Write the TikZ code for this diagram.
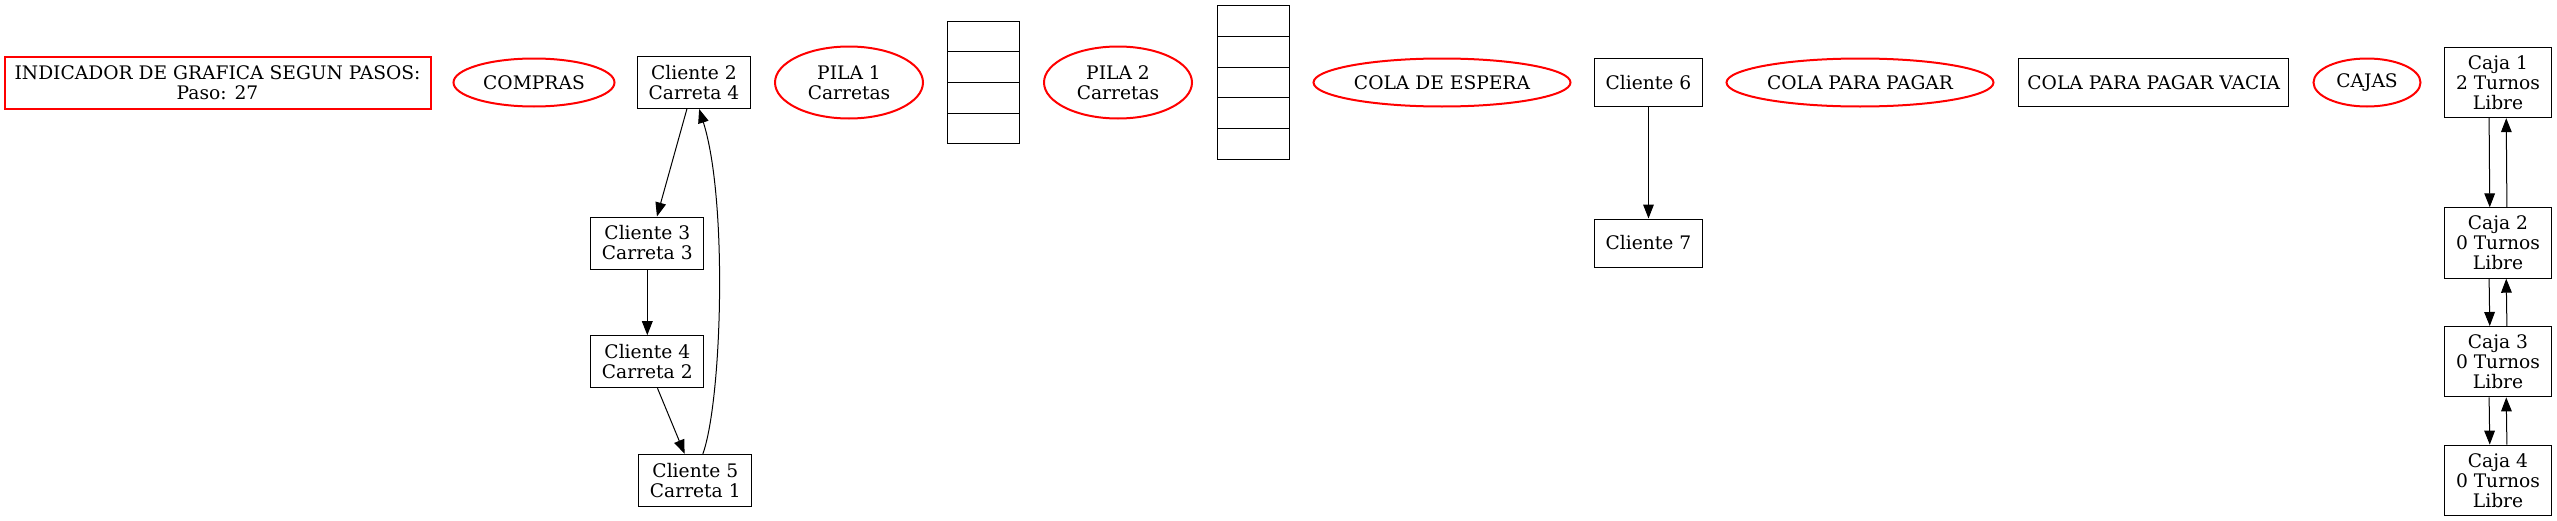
\documentclass[tikz,border=0pt]{standalone}
\usepackage{fontspec}
\setmainfont{DejaVu Serif}
\usetikzlibrary{arrows.meta,shapes.geometric}
\definecolor{labelred}{RGB}{255,0,0}
\newcommand{\gvfont}{\fontsize{14}{15}\selectfont}
\tikzset{
    % section labels (red)
    seclabel/.style={
        ellipse, draw=labelred, line width=1.5pt,
        inner sep=0pt, align=center, font=\gvfont,
        minimum height=36pt
    },
    infobox/.style={
        rectangle, draw=labelred, line width=1.5pt,
        inner sep=0pt, align=center, font=\gvfont
    },
    % plain record boxes
    clientbox/.style={
        rectangle, draw=black, line width=0.75pt,
        inner sep=0pt, align=center, font=\gvfont,
        minimum width=84.75pt, minimum height=39pt
    },
    queuebox/.style={clientbox, minimum width=81pt, minimum height=36pt},
    cajabox/.style={clientbox, minimum width=80pt, minimum height=52.8pt},
    stackcell/.style={
        rectangle, draw=black, line width=0.75pt,
        minimum width=54pt, minimum height=23pt, inner sep=0pt
    },
    link/.style={line width=0.75pt, -{Triangle[length=10.5pt,width=8pt]}},
}

\begin{document}
\begin{tikzpicture}[x=0.75pt,y=-0.75pt]
  \useasboundingbox (0,0) rectangle (2557,521);
  \node[infobox, minimum width=319.5pt, minimum height=39pt] (ind) at (217.5,82.5)
       {INDICADOR DE GRAFICA SEGUN PASOS:\\Paso: 27};
  % compras
  \node[seclabel, minimum width=120.75pt] (compras) at (534,82.5) {COMPRAS};
  \node[clientbox] (c2) at (694,82.5)    {Cliente 2\\Carreta 4};
  \node[clientbox] (c3) at (647.3,243)   {Cliente 3\\Carreta 3};
  \node[clientbox] (c4) at (647.3,361.7) {Cliente 4\\Carreta 2};
  \node[clientbox] (c5) at (695.3,480.3) {Cliente 5\\Carreta 1};
  \draw[link] (c2.255) -- (c3.70);
  \draw[link] (c3) -- (c4);
  \draw[link] (c4.291) -- (c5.112);
  \draw[link] (c5.74) .. controls (722,400) and (728,200) .. (c2.281);
  % pilas de carretas
  \node[seclabel, minimum width=111pt, minimum height=54pt] (pila1) at (849,82.5) {PILA 1\\Carretas};
  \foreach \i in {1,...,4}
    \node[stackcell] (pa\i) at (983,{82.5+(\i-2.5)*30.7}) {};
  \node[seclabel, minimum width=111pt, minimum height=54pt] (pila2) at (1118,82.5) {PILA 2\\Carretas};
  \foreach \i in {1,...,5}
    \node[stackcell] (pb\i) at (1253,{82.5+(\i-3)*30.7}) {};
  % colas
  \node[seclabel, minimum width=192.75pt] (espera) at (1442,82.5) {COLA DE ESPERA};
  \node[queuebox] (c6) at (1648.5,82.5) {Cliente 6};
  \node[queuebox] (c7) at (1648.5,243)  {Cliente 7};
  \draw[link] (c6) -- (c7);
  \node[seclabel, minimum width=200.25pt] (pagar) at (1860,82.5) {COLA PARA PAGAR};
  \node[queuebox, minimum width=202.5pt] (vacia) at (2153.8,82.5) {COLA PARA PAGAR VACIA};
  % cajas
  \node[seclabel, minimum width=80.25pt] (cajas) at (2367,82.5) {CAJAS};
  \node[cajabox] (k1) at (2498,82.5)  {Caja 1\\2 Turnos\\Libre};
  \node[cajabox] (k2) at (2498,243)   {Caja 2\\0 Turnos\\Libre};
  \node[cajabox] (k3) at (2498,361.7) {Caja 3\\0 Turnos\\Libre};
  \node[cajabox] (k4) at (2498,480.3) {Caja 4\\0 Turnos\\Libre};
  \foreach \a/\b in {k1/k2,k2/k3,k3/k4} {
    \draw[link] (\a.256.6) -- (\b.103.4);
    \draw[link] (\b.76.6) -- (\a.283.4);
  }
\end{tikzpicture}
\end{document}
